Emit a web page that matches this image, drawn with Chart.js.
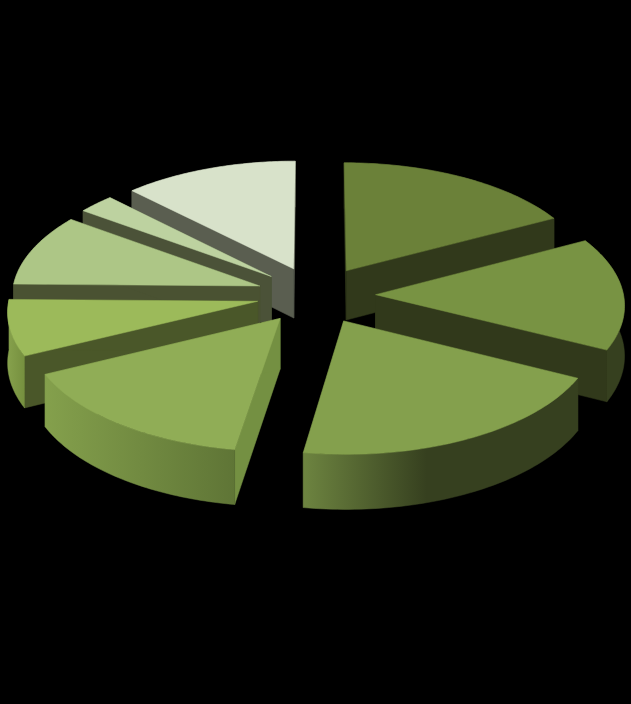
<!DOCTYPE html>
<html>
<head>
<meta charset="utf-8">
<title>Pie</title>
<script src="https://cdn.jsdelivr.net/npm/chart.js@4"></script>
<style>
  html, body { margin: 0; padding: 0; background: #000; }
  canvas { display: block; }
</style>
</head>
<body>
<canvas id="pie" width="631" height="704"></canvas>
<script>
// slice values, clockwise from 12 o'clock
const categories = ['A', 'B', 'C', 'D', 'E', 'F', 'G', 'H'];
const values = [17.25, 15.15, 20.1, 15.25, 7.5, 9.75, 2.6, 12.4];

// colours of each slice: top face, cut walls, rim gradient
const topColors = ['#6b8139', '#789343', '#84a04d', '#90ad56', '#9cba5a', '#adc686', '#bdd2a0', '#d8e2ca'];
const cutColors = ['#31391b', '#31391b', '#36401f', '#749042', '#4a5729', '#4a5232', '#4b5238', '#5a5e50'];
const rimColors = [
  ['#31391b', '#31391b'],
  ['#36401f', '#36401f'],
  ['#6d8440', '#36401f', '#36401f'],
  ['#84a04c', '#5f7536'],
  ['#86a14c', '#76903f'],
  ['#4a5232', '#4a5232'],
  ['#4b5238', '#4b5238'],
  ['#5a5e50', '#5a5e50']
];

// fake camera, fitted by eye against the picture
const centerX = 316;
const centerY = 295;
const widen = 0.992;
const squash = 0.478;
const persp = 0.000298;
const depth = 50;

function project(wx, wy, drop) {
  const w = 1 - persp * wy;
  return {
    x: centerX + widen * wx / w,
    y: centerY + (squash * wy + drop) / w
  };
}

function polygon(ctx, pts, fill) {
  ctx.beginPath();
  pts.forEach((p, i) => (i ? ctx.lineTo(p.x, p.y) : ctx.moveTo(p.x, p.y)));
  ctx.closePath();
  ctx.fillStyle = fill;
  ctx.strokeStyle = fill;
  ctx.lineWidth = 0.5;
  ctx.fill();
  ctx.stroke();
}

const pie3d = {
  id: 'pie3d',
  // replaces the flat drawing, geometry still comes from the arc elements
  beforeDatasetsDraw(chart) {
    const ctx = chart.ctx;
    const arcs = chart.getDatasetMeta(0).data.map((arc, index) => {
      const p = arc.getProps(['startAngle', 'endAngle', 'outerRadius']);
      const mid = (p.startAngle + p.endAngle) / 2;
      const off = arc.options.offset;
      return { index, arc, p, mid, ox: Math.cos(mid) * off, oy: Math.sin(mid) * off };
    });

    // back to front
    arcs.sort((a, b) => Math.sin(a.mid) - Math.sin(b.mid));

    arcs.forEach(({ index, arc, p, ox, oy }) => {
      const steps = 60;
      const top = [];
      const bottom = [];
      for (let i = 0; i <= steps; i++) {
        const a = p.startAngle + (p.endAngle - p.startAngle) * i / steps;
        const wx = ox + Math.cos(a) * p.outerRadius;
        const wy = oy + Math.sin(a) * p.outerRadius;
        top.push(project(wx, wy, 0));
        bottom.push(project(wx, wy, depth));
      }
      const apexTop = project(ox, oy, 0);
      const apexBottom = project(ox, oy, depth);

      // cut walls
      polygon(ctx, [apexTop, top[0], bottom[0], apexBottom], cutColors[index]);
      polygon(ctx, [apexTop, top[steps], bottom[steps], apexBottom], cutColors[index]);

      // rim
      const xs = top.map((t) => t.x);
      const grad = ctx.createLinearGradient(Math.min(...xs), 0, Math.max(...xs), 0);
      const stops = rimColors[index];
      if (stops.length === 3) {
        grad.addColorStop(0, stops[0]);
        grad.addColorStop(0.45, stops[1]);
        grad.addColorStop(1, stops[2]);
      } else {
        grad.addColorStop(0, stops[0]);
        grad.addColorStop(1, stops[1]);
      }
      polygon(ctx, top.concat(bottom.slice().reverse()), grad);

      // top face
      polygon(ctx, [apexTop].concat(top), arc.options.backgroundColor);
    });
    return false;
  }
};

new Chart(document.getElementById('pie'), {
  type: 'pie',
  data: {
    labels: categories,
    datasets: [{
      data: values,
      backgroundColor: topColors,
      borderWidth: 0,
      offset: 60
    }]
  },
  options: {
    responsive: false,
    animation: false,
    radius: 250,
    plugins: {
      legend: { display: false },
      tooltip: { enabled: false }
    }
  },
  plugins: [pie3d]
});
</script>
</body>
</html>
